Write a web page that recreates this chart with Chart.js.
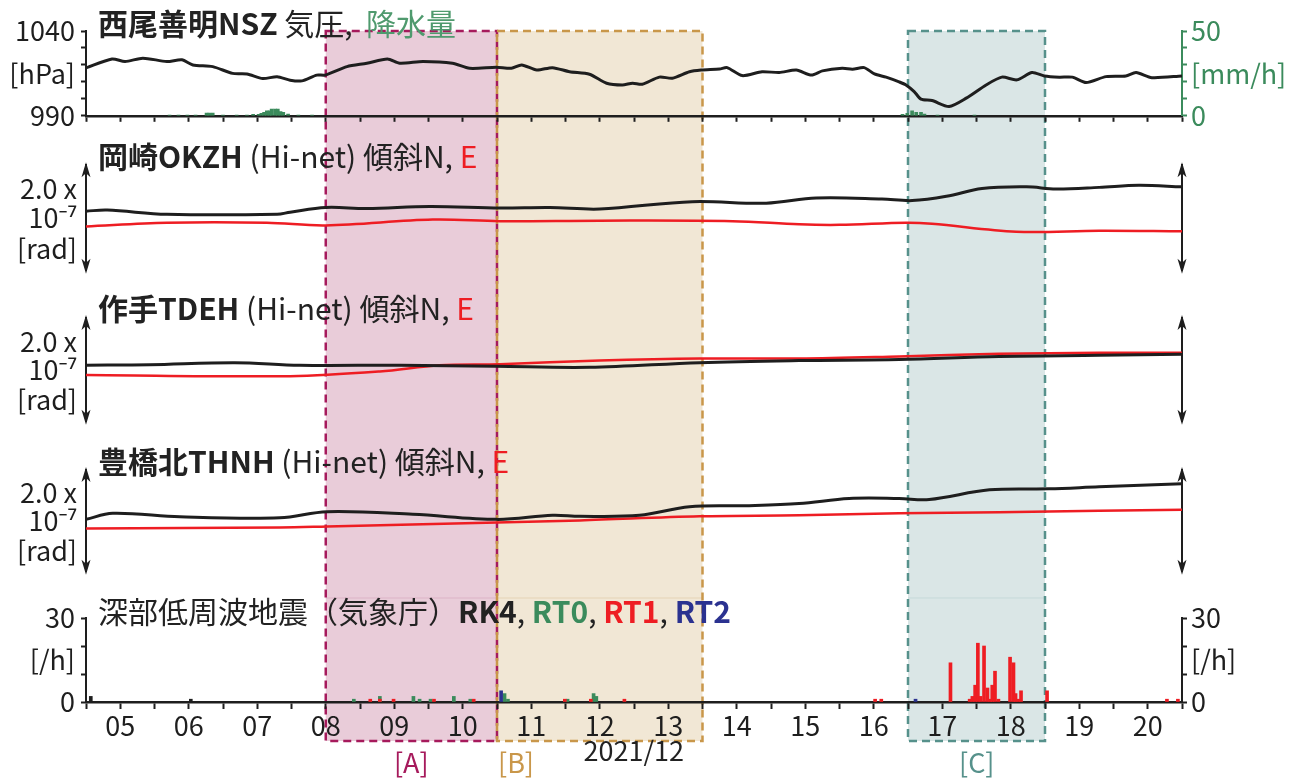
<!DOCTYPE html>
<html lang="ja">
<head>
<meta charset="utf-8">
<title>西尾善明NSZ 気圧・降水量 / Hi-net傾斜 / 深部低周波地震 2021/12</title>
<script src="https://cdn.jsdelivr.net/npm/chart.js@4.4.1/dist/chart.umd.min.js"></script>
<style>
  html, body { margin: 0; padding: 0; background: #fff; }
  #page { position: relative; width: 1303px; height: 780px; overflow: hidden;
          font-family: "Noto Sans CJK JP", "Noto Sans", sans-serif; color: #222; }
  #shade { position: absolute; left: 0; top: 0; z-index: 1; }
  canvas { position: absolute; left: 0; z-index: 2; }
  .txt { position: absolute; font-size: 30px; line-height: 30px; white-space: pre; z-index: 3; }
  .txt b { font-weight: 700; }
  .small { font-size: 27px; line-height: 27px; }
</style>
</head>
<body>
<div id="page">
  <svg id="shade" width="1303" height="780"></svg>
  <canvas id="c1" width="1303" height="138" style="top:0px"></canvas>
  <canvas id="c2" width="1303" height="156" style="top:140px"></canvas>
  <canvas id="c3" width="1303" height="157" style="top:290px"></canvas>
  <canvas id="c4" width="1303" height="157" style="top:440px"></canvas>
  <canvas id="c5" width="1303" height="190" style="top:590px"></canvas>

  <div class="txt" style="left:98px;top:7px"><b>西尾善明NSZ</b> 気圧,  <span style="color:#4f9a6e">降水量</span></div>
  <div class="txt" style="left:98px;top:140px"><b>岡崎OKZH</b> (Hi-net) 傾斜N, <span style="color:#ee1d23">E</span></div>
  <div class="txt" style="left:98px;top:292px"><b>作手TDEH</b> (Hi-net) 傾斜N, <span style="color:#ee1d23">E</span></div>
  <div class="txt" style="left:98px;top:445px"><b>豊橋北THNH</b> (Hi-net) 傾斜N, <span style="color:#ee1d23">E</span></div>
  <div class="txt" style="left:98px;top:595px">深部低周波地震（気象庁）<b>RK4</b>, <b style="color:#3b8b5c">RT0</b>, <b style="color:#ee1d23">RT1</b>, <b style="color:#2b3290">RT2</b></div>
  <div class="txt small" id="ym" style="top:736px">2021/12</div>
  <div class="txt small" id="lblA" style="top:748px;color:#a61a5c">[A]</div>
  <div class="txt small" id="lblB" style="top:748px;color:#c9974a">[B]</div>
  <div class="txt small" id="lblC" style="top:748px;color:#56918b">[C]</div>
</div>
<script>
// x = day of 2021/12 (tick label "05" sits at 5.0)
const X_MIN = 4.5, X_MAX = 20.5;

// 西尾善明NSZ pressure [hPa]
const pressureDay = [4.50, 4.88, 5.07, 5.33, 5.68, 5.90, 6.06, 6.35, 6.64, 6.85, 7.08, 7.29, 7.48, 7.65, 7.87, 7.99,
  8.31, 8.60, 8.90, 9.08, 9.42, 9.85, 10.10, 10.49, 10.71, 10.86, 11.08, 11.31, 11.56, 11.85, 12.10, 12.33, 12.48,
  12.62, 12.87, 13.06, 13.31, 13.48, 13.75, 13.86, 14.08, 14.37, 14.62, 14.87, 15.09, 15.25, 15.54, 15.69, 15.86,
  16.01, 16.18, 16.37, 16.47, 16.59, 16.69, 16.85, 17.10, 17.35, 17.64, 17.87, 18.09, 18.31, 18.49, 18.71, 18.90,
  19.10, 19.39, 19.68, 19.83, 20.06, 20.50];
const pressureHpa = [1018.2, 1023.5, 1022, 1024, 1022, 1023, 1020, 1019, 1015, 1014.7, 1012, 1013, 1011, 1010.6, 1014, 1014,
  1019, 1021, 1023.5, 1021, 1022, 1021, 1018, 1018.6, 1018, 1020, 1017, 1018.4, 1016, 1014.5, 1009.2, 1008.2, 1009.2,
  1008.6, 1012.8, 1012.2, 1016, 1017, 1017.6, 1018.4, 1013.7, 1016, 1015.5, 1017, 1014, 1016.5, 1018, 1017.5, 1018.4,
  1014.7, 1012.8, 1010, 1008.2, 1004.3, 999.8, 999, 995.5, 1000.4, 1008.2, 1012.8, 1011.2, 1015.5, 1013.5, 1012.8, 1012.8,
  1009.6, 1013.1, 1013.5, 1015.5, 1012.5, 1013.5];

// precipitation [mm/h]
const rainDay = [5.72, 5.85, 5.98, 6.10, 6.26, 6.30, 6.35, 6.50, 6.70, 6.85, 6.94, 7.02, 7.06, 7.10, 7.14, 7.18,
  7.21, 7.26, 7.30, 7.34, 7.38, 7.45, 7.60, 7.80, 16.42, 16.49, 16.56, 16.62, 16.69, 16.74, 16.93, 17.47];
const rainMm = [0.4, 0.4, 0.4, 0.4, 1.6, 1.6, 1.6, 0.4, 0.4, 0.4, 0.8, 0.8, 1.5, 2, 3, 3,
  4, 4, 4, 2.5, 2, 1, 0.4, 0.4, 0.8, 1.5, 3, 2, 2, 1, 0.4, 0.4];

// tilt, in units of 1e-7 rad (arrow = 2.0)
const okzhNDay = [4.5, 4.81, 5.68, 7.29, 7.48, 8.0, 8.6, 9.52, 10.54, 11.27, 12.0, 13.35, 14.43, 15.16, 16.12, 16.56,
  17.06, 17.58, 18.23, 18.66, 19.29, 19.87, 20.5];
const okzhN = [1.13, 1.15, 1.07, 1.07, 1.11, 1.20, 1.18, 1.22, 1.19, 1.20, 1.17, 1.31, 1.28, 1.38, 1.36, 1.33,
  1.41, 1.56, 1.59, 1.55, 1.58, 1.62, 1.59];
const okzhEDay = [4.5, 5.68, 7.14, 8.0, 9.56, 10.54, 12.0, 13.94, 14.91, 15.5, 16.47, 16.85, 18.08, 19.29, 20.5];
const okzhE = [0.84, 0.91, 0.91, 0.86, 0.97, 0.94, 0.95, 0.94, 0.88, 0.87, 0.91, 0.89, 0.74, 0.76, 0.75];

const tdehNDay = [4.5, 5.43, 6.67, 7.62, 9.08, 10.48, 11.85, 13.46, 14.91, 16.37, 17.83, 19.29, 20.5];
const tdehN = [1.09, 1.10, 1.14, 1.09, 1.09, 1.07, 1.05, 1.14, 1.18, 1.20, 1.26, 1.28, 1.30];
const tdehEDay = [4.5, 7.48, 8.79, 9.66, 10.54, 12.0, 13.46, 14.91, 16.37, 17.83, 19.29, 20.5];
const tdehE = [0.90, 0.88, 0.97, 1.09, 1.11, 1.18, 1.22, 1.22, 1.26, 1.31, 1.33, 1.33];

const thnhNDay = [4.5, 4.89, 5.87, 7.33, 8.02, 9.27, 10.5, 11.31, 11.71, 12.58, 13.31, 14.18, 14.91, 15.64, 16.37,
  16.81, 17.69, 18.56, 19.29, 20.5];
const thnhN = [1.03, 1.15, 1.08, 1.06, 1.18, 1.13, 1.03, 1.11, 1.09, 1.11, 1.28, 1.30, 1.34, 1.44, 1.44,
  1.42, 1.61, 1.63, 1.67, 1.73];
const thnhEDay = [4.5, 7.33, 8.02, 10.5, 11.71, 13.46, 14.91, 16.37, 17.83, 19.29, 20.5];
const thnhE = [0.85, 0.87, 0.89, 0.97, 1.01, 1.09, 1.11, 1.15, 1.17, 1.20, 1.22];

// deep low-frequency earthquakes per hour
const rk4Day = [4.57, 6.03];
const rk4Count = [2, 1];
const rt0Day = [8.41, 8.79, 9.28, 9.37, 9.53, 9.87, 10.11, 10.61, 10.66, 11.53, 11.91, 11.95];
const rt0Count = [1, 2, 2, 1, 1, 2, 1, 3, 1, 1, 3, 2];
const rt1Day = [8.65, 8.79, 8.99, 9.58, 10.16, 11.49, 11.87, 12.36, 16.02, 16.11, 17.12, 17.40, 17.44, 17.48, 17.52,
  17.56, 17.61, 17.66, 17.70, 17.73, 17.77, 17.82, 17.99, 18.04, 18.07, 18.11, 18.15, 18.53, 20.28, 20.44];
const rt1Count = [1, 1, 1, 1, 1, 1, 1, 1, 1, 1, 14, 1, 2, 6, 21,
  2, 20, 5, 1, 6, 11, 1, 16, 14, 3, 1, 4, 4, 1, 1];
const rt2Day = [10.56, 16.61];
const rt2Count = [4, 1];

// highlighted periods
const periodNames = ['A', 'B', 'C'];
const periodStart = [8.0, 10.5, 16.5];
const periodEnd = [10.5, 13.5, 18.5];

const INK = '#1e1e1e';
const RED = '#ee1d23';
const GREEN = '#3b8b5c';
const BLUE = '#2b3290';
const NONE = 'rgba(0,0,0,0)';

Chart.defaults.font.family = '"Noto Sans CJK JP", "Noto Sans", sans-serif';
Chart.defaults.font.size = 27;
Chart.defaults.color = INK;
Chart.defaults.animation = false;
Chart.defaults.plugins.legend.display = false;
Chart.defaults.plugins.tooltip.enabled = false;

const pts = (xs, ys) => xs.map((x, i) => ({ x, y: ys[i] }));

function xAxis(extra) {
  return Object.assign({
    type: 'linear', min: X_MIN, max: X_MAX, offset: false,
    ticks: { stepSize: 0.5, autoSkip: false, maxRotation: 0, display: false },
    grid: { drawOnChartArea: false, offset: false, tickLength: 6, tickWidth: 2, tickColor: INK },
    border: { color: INK, width: 2.5 }
  }, extra);
}

// y axis with fixed tick values; values in noMark get a label but no tick mark
function yAxis(pos, min, max, values, labels, color, width, noMark) {
  return {
    position: pos, min, max,
    afterBuildTicks: s => { s.ticks = values.map(v => ({ value: v })); },
    afterFit: s => { s.width = width; },
    ticks: { autoSkip: false, color, padding: pos === 'left' ? 6 : 4, callback: (v, i) => labels[i] },
    grid: {
      drawOnChartArea: false, tickLength: 5, tickWidth: 2,
      tickColor: ctx => (noMark.includes(values[ctx.index]) ? NONE : color)
    },
    border: { color, width: 2 }
  };
}

function tiltAxes() {
  return {
    x: xAxis({ display: false }),
    y: {
      position: 'left', min: 0, max: 2,
      afterBuildTicks: s => { s.ticks = [0.42, 1.0, 1.55].map(v => ({ value: v })); },
      afterFit: s => { s.width = 86; },
      ticks: { autoSkip: false, padding: 9, callback: (v, i) => ['[rad]', '10⁻⁷', '2.0 x'][i] },
      grid: { drawOnChartArea: false, drawTicks: false },
      border: { color: INK, width: 2 }
    },
    yr: {
      position: 'right', min: 0, max: 2,
      afterFit: s => { s.width = 121; },
      ticks: { display: false },
      grid: { drawOnChartArea: false, drawTicks: false },
      border: { color: INK, width: 2 }
    }
  };
}

// arrowheads on both ends of the tilt scale bars
const arrowAxes = {
  id: 'arrowAxes',
  afterDraw(chart) {
    const { ctx, chartArea: a } = chart;
    ctx.save();
    ctx.fillStyle = INK;
    [a.left, a.right].forEach(x => {
      [[a.top - 3, -1], [a.bottom + 3, 1]].forEach(([tip, dir]) => {
        ctx.beginPath();
        ctx.moveTo(x, tip);
        ctx.lineTo(x - 4.5, tip - dir * 15);
        ctx.lineTo(x, tip - dir * 11);
        ctx.lineTo(x + 4.5, tip - dir * 15);
        ctx.closePath();
        ctx.fill();
      });
    });
    ctx.restore();
  }
};

const lineStyle = (color, width) => ({
  borderColor: color, borderWidth: width, pointRadius: 0, fill: false, tension: 0.35
});

function tiltChart(id, top, nDay, nVal, eDay, eVal) {
  return new Chart(document.getElementById(id), {
    type: 'line',
    data: {
      datasets: [
        Object.assign({ data: pts(nDay, nVal), yAxisID: 'y' }, lineStyle(INK, 3)),
        Object.assign({ data: pts(eDay, eVal), yAxisID: 'y' }, lineStyle(RED, 2.5))
      ]
    },
    options: {
      responsive: false,
      layout: { padding: { top, bottom: 24, left: 0, right: 0 } },
      scales: tiltAxes()
    },
    plugins: [arrowAxes]
  });
}

// panel 1: pressure + precipitation
const pressureChart = new Chart(document.getElementById('c1'), {
  type: 'line',
  data: {
    datasets: [
      Object.assign({ data: pts(pressureDay, pressureHpa), yAxisID: 'y', order: 0 }, lineStyle(INK, 3), { tension: 0.25 }),
      { type: 'bar', data: pts(rainDay, rainMm), yAxisID: 'y2', order: 1,
        backgroundColor: GREEN, barThickness: 3 }
    ]
  },
  options: {
    responsive: false,
    layout: { padding: { top: 31, left: 0, right: 0, bottom: 0 } },
    scales: {
      x: xAxis({ afterFit: s => { s.height = 22; } }),
      y: yAxis('left', 990, 1040, [990, 1000, 1010, 1015, 1020, 1030, 1040],
        ['990', '', '', '[hPa]', '', '', '1040'], INK, 86, [1015]),
      y2: yAxis('right', 0, 50, [0, 10, 20, 25, 30, 40, 50],
        ['0', '', '', '[mm/h]', '', '', '50'], GREEN, 121, [25])
    }
  }
});

tiltChart('c2', 25, okzhNDay, okzhN, okzhEDay, okzhE);
tiltChart('c3', 28, tdehNDay, tdehN, tdehEDay, tdehE);
tiltChart('c4', 30, thnhNDay, thnhN, thnhEDay, thnhE);

// panel 5: deep low-frequency earthquakes
const barSet = (days, counts, color, order) => ({
  data: pts(days, counts), backgroundColor: color, barThickness: 3, grouped: false, order
});
const lfeChart = new Chart(document.getElementById('c5'), {
  type: 'bar',
  data: {
    datasets: [
      barSet(rk4Day, rk4Count, INK, 2),
      barSet(rt0Day, rt0Count, GREEN, 1),
      barSet(rt1Day, rt1Count, RED, 0),
      barSet(rt2Day, rt2Count, BLUE, 0)
    ]
  },
  options: {
    responsive: false,
    layout: { padding: { top: 28, left: 0, right: 0, bottom: 0 } },
    scales: {
      x: xAxis({
        afterFit: s => { s.height = 78; },
        ticks: {
          stepSize: 0.5, autoSkip: false, maxRotation: 0, padding: 1,
          callback: v => (Number.isInteger(v) && v > X_MIN && v < X_MAX ? String(v).padStart(2, '0') : '')
        },
        grid: { drawOnChartArea: false, offset: false, tickLength: 7, tickWidth: 2, tickColor: INK }
      }),
      y: yAxis('left', 0, 30, [0, 10, 15, 20, 30], ['0', '', '[/h]', '', '30'], INK, 86, [15]),
      yr: yAxis('right', 0, 30, [0, 10, 15, 20, 30], ['0', '', '[/h]', '', '30'], INK, 121, [15])
    }
  }
});

// shaded periods across all panels, placed with the shared x scale
const xs = pressureChart.scales.x;
const svg = document.getElementById('shade');
const fills = ['#e9ccd9', '#f1e7d5', '#dae6e6'];
const strokes = ['#a61a5c', '#c9974a', '#56918b'];
const seams = ['#dcb3c6', '#e5d3b5', '#c5d9d9'];
let markup = '';
periodNames.forEach((name, i) => {
  const x0 = xs.getPixelForValue(periodStart[i]);
  const x1 = xs.getPixelForValue(periodEnd[i]);
  markup += `<rect x="${x0}" y="31" width="${x1 - x0}" height="710" fill="${fills[i]}"/>`;
  markup += `<line x1="${x0}" y1="598" x2="${x1}" y2="598" stroke="${seams[i]}" stroke-width="1"/>`;
});
periodNames.forEach((name, i) => {
  const x0 = xs.getPixelForValue(periodStart[i]);
  const x1 = xs.getPixelForValue(periodEnd[i]);
  markup += `<rect x="${x0}" y="31" width="${x1 - x0}" height="710" fill="none" stroke="${strokes[i]}"
    stroke-width="2.5" stroke-dasharray="8 5"/>`;
});
svg.innerHTML = markup;

function placeCentered(id, px) {
  const el = document.getElementById(id);
  el.style.left = (px - el.offsetWidth / 2) + 'px';
}
placeCentered('lblA', (xs.getPixelForValue(periodStart[0]) + xs.getPixelForValue(periodEnd[0])) / 2);
document.getElementById('lblB').style.left = (xs.getPixelForValue(periodStart[1]) + 1) + 'px';
placeCentered('lblC', (xs.getPixelForValue(periodStart[2]) + xs.getPixelForValue(periodEnd[2])) / 2);
placeCentered('ym', xs.getPixelForValue(12.5));
</script>
</body>
</html>
